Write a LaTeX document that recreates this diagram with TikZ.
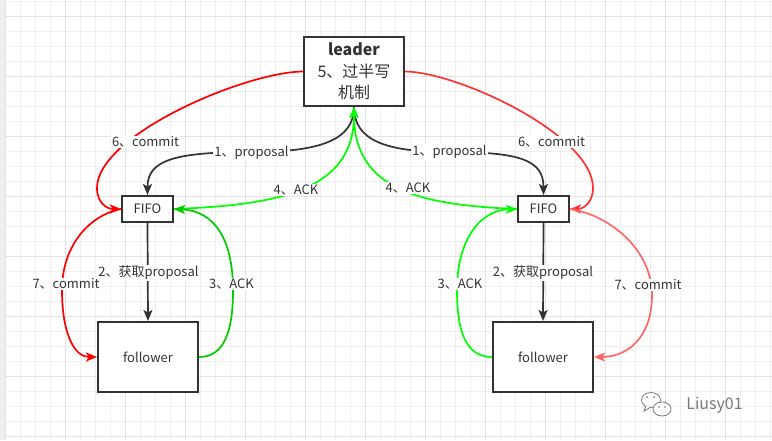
\documentclass[tikz,border=0pt]{standalone}
\usepackage{fontspec}
\setmainfont{Noto Sans CJK SC}
\usetikzlibrary{arrows.meta}
\definecolor{ink}{HTML}{333333}
\definecolor{gminor}{HTML}{EFEFEF}
\definecolor{gmajor}{HTML}{E3E3E3}
\definecolor{redA}{HTML}{FF0000}
\definecolor{redB}{HTML}{FF3333}
\definecolor{redC}{HTML}{FF6666}
\definecolor{grnA}{HTML}{00FF00}
\definecolor{grnB}{HTML}{00CC00}
\definecolor{wm}{HTML}{7A7A7A}
\begin{document}
\begin{tikzpicture}[x=1pt,y=-1pt,
  box/.style={draw=ink, line width=2pt, fill=white, text=ink, font=\fontsize{13}{15}\selectfont, inner sep=0pt},
  lbl/.style={fill=white, text=ink, font=\fontsize{13}{15}\selectfont, inner sep=1pt},
  conn/.style={line width=1.7pt, -{Stealth[length=11pt,width=9pt,inset=2.5pt]}},
  minorline/.style={draw=gminor, line width=0.8pt},
  majorline/.style={draw=gmajor, line width=1pt}]
\useasboundingbox (0,0) rectangle (772,440);
\fill[white] (0,0) rectangle (772,440);
% grid
\foreach \x in {5,20,...,770} \draw[minorline] (\x,0) -- (\x,440);
\foreach \y in {1,16,...,440} \draw[minorline] (0,\y) -- (772,\y);
\foreach \x in {5,65,...,770} \draw[majorline] (\x,0) -- (\x,440);
\foreach \y in {16,76,...,440} \draw[majorline] (0,\y) -- (772,\y);
\fill[gminor] (0,0) rectangle (4.5,440);

% nodes
\node[box, minimum width=100pt, minimum height=69pt, align=center,
      font=\fontsize{16}{21.5}\selectfont] (leader) at (354,71.5)
      {\textbf{leader}\\5、过半写\\机制};
\node[box, minimum width=51pt, minimum height=26pt] (fifoL) at (147.5,209) {FIFO};
\node[box, minimum width=51pt, minimum height=26pt] (fifoR) at (543.5,209) {FIFO};
\node[box, minimum width=100pt, minimum height=70pt] (follL) at (148,357) {follower};
\node[box, minimum width=100pt, minimum height=70pt] (follR) at (543,357) {follower};

% 1 proposal
\draw[conn, ink] (leader.south) .. controls (354,140) and (320,152) .. (252,152)
   .. controls (175,152) and (147.5,160) .. (fifoL.north);
\draw[conn, ink] (leader.south) .. controls (354,140) and (385,152) .. (449,152)
   .. controls (520,152) and (543.5,160) .. (fifoR.north);
% 2 fetch
\draw[conn, ink] (fifoL.south) -- (follL.north);
\draw[conn, ink] (fifoR.south) -- (follR.north);
% 4 ACK
\draw[conn, grnA] (fifoL.east) .. controls (280,205) and (354,190) .. (leader.south);
\draw[conn, grnA] (fifoR.west) .. controls (420,205) and (354,190) .. (leader.south);
% 3 ACK
\draw[conn, grnB] (follL.east) .. controls (225,357) and (233,330) .. (233,290)
   .. controls (233,240) and (215,211) .. (fifoL.east);
\draw[conn, grnA] (follR.west) .. controls (465,357) and (457,330) .. (457,290)
   .. controls (457,240) and (480,210) .. (fifoR.west);
% 6 commit
\draw[conn, redA] (leader.west) .. controls (245,72) and (97,135) .. (97,188)
   .. controls (97,203) and (107,209) .. (fifoL.west);
\draw[conn, redB] (leader.east) .. controls (458,72) and (593,135) .. (593,188)
   .. controls (593,203) and (583,209) .. (fifoR.east);
% 7 commit
\draw[conn, redA] (fifoL.west) .. controls (90,215) and (62,245) .. (62,290)
   .. controls (62,335) and (75,357) .. (follL.west);
\draw[conn, redC] (fifoR.east) .. controls (610,215) and (652,250) .. (652,295)
   .. controls (652,340) and (625,357) .. (follR.east);

% labels
\node[lbl] (l1a) at (251.5,153) {1、proposal};
\node[lbl] (l1b) at (449.5,152) {1、proposal};
\node[lbl] (l2a) at (148.5,273) {2、获取proposal};
\node[lbl] (l2b) at (543,273) {2、获取proposal};
\node[lbl] (l3a) at (231.5,284) {3、ACK};
\node[lbl] (l3b) at (460,284) {3、ACK};
\node[lbl] (l4a) at (296,190) {4、ACK};
\node[lbl] (l4b) at (408,188) {4、ACK};
\node[lbl] (l6a) at (145.5,142) {6、commit};
\node[lbl] (l6b) at (551.5,142) {6、commit};
\node[lbl] (l7a) at (66,284) {7、commit};
\node[lbl] (l7b) at (648,285) {7、commit};

% watermark
\draw[wm, line width=0.8pt, fill=white] (651,400) ellipse [x radius=9.5pt, y radius=7.5pt];
\draw[wm, line width=0.8pt, fill=white] (646,406) -- (644,411) -- (651,407);
\draw[wm, line width=0.8pt, fill=white] (662,409) ellipse [x radius=9pt, y radius=7pt];
\fill[wm] (647,397) circle (1pt) (654,397) circle (1pt) (659,407) circle (0.9pt) (665,407) circle (0.9pt);
\node[text=wm, font=\fontsize{16}{18}\selectfont, inner sep=0pt] (wmtext) at (714.5,405) {Liusy01};
\end{tikzpicture}
\end{document}
